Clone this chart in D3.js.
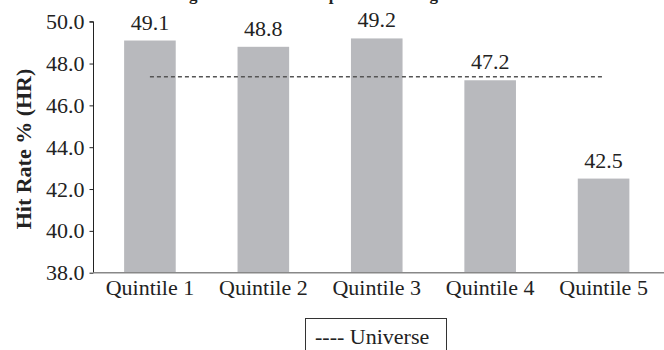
<!DOCTYPE html>
<html>
<head>
<meta charset="utf-8">
<script src="https://cdn.jsdelivr.net/npm/d3@7"></script>
<style>
  body { margin: 0; background: #fff; }
  svg { display: block; font-family: "Liberation Serif", "Times New Roman", serif; }
</style>
</head>
<body>
<script>
// chart data
const categories = ["Quintile 1", "Quintile 2", "Quintile 3", "Quintile 4", "Quintile 5"];
const hitRates = [49.1, 48.8, 49.2, 47.2, 42.5];
const universeRate = 47.37;
const yTicks = [38, 40, 42, 44, 46, 48, 50];

const width = 664, height = 350;

const svg = d3.select("body").append("svg")
    .attr("width", width)
    .attr("height", height);

const x = d3.scaleBand()
    .domain(categories)
    .range([93.5, 660])
    .paddingInner(0.545)
    .paddingOuter(0.27);

const y = d3.scaleLinear()
    .domain([38, 50])
    .range([272.7, 21.7]);

// title (mostly cut off at top of the picture, as in the source)
svg.append("text")
    .attr("x", 146)
    .attr("y", 0)
    .attr("font-size", 17)
    .attr("font-weight", "bold")
    .attr("fill", "#222")
    .text("Average Hit Rate of Composite Ranking");

// bars
svg.selectAll("rect.bar")
    .data(hitRates)
    .enter().append("rect")
    .attr("class", "bar")
    .attr("x", (d, i) => x(categories[i]))
    .attr("width", x.bandwidth())
    .attr("y", d => y(d))
    .attr("height", d => y(38) - y(d))
    .attr("fill", "#b8b9bd");

// value labels
svg.selectAll("text.val")
    .data(hitRates)
    .enter().append("text")
    .attr("class", "val")
    .attr("x", (d, i) => x(categories[i]) + x.bandwidth() / 2)
    .attr("y", d => y(d) - 11)
    .attr("text-anchor", "middle")
    .attr("font-size", 22)
    .attr("fill", "#222")
    .text(d => d.toFixed(1));

// universe line from first to last category centre
svg.append("line")
    .attr("x1", x(categories[0]) + x.bandwidth() / 2)
    .attr("x2", x(categories[categories.length - 1]) + x.bandwidth() / 2)
    .attr("y1", y(universeRate))
    .attr("y2", y(universeRate))
    .attr("stroke", "#555")
    .attr("stroke-width", 1.5)
    .attr("stroke-dasharray", "4,3");

// y axis
const yAxis = svg.append("g")
    .attr("transform", "translate(93.5,0)")
    .call(d3.axisLeft(y).tickValues(yTicks).tickSize(4).tickPadding(5).tickFormat(d3.format(".1f")));
yAxis.select(".domain").attr("stroke", "#222").attr("d", `M-4,${y(50)}H0V${y(38)}`);
yAxis.selectAll(".tick line").attr("stroke", "#222");
yAxis.selectAll(".tick text")
    .attr("font-family", "Liberation Serif, serif")
    .attr("font-size", 22)
    .attr("fill", "#222");

// x axis
const xAxis = svg.append("g")
    .attr("transform", `translate(0,${y(38)})`)
    .call(d3.axisBottom(x).tickSize(0).tickPadding(7));
xAxis.select(".domain").attr("stroke", "#888").attr("stroke-width", 1.5)
    .attr("d", `M93.5,0H664`);
xAxis.selectAll(".tick text")
    .attr("font-family", "Liberation Serif, serif")
    .attr("font-size", 22)
    .attr("fill", "#222");

// y axis title
svg.append("text")
    .attr("transform", "translate(31,149) rotate(-90)")
    .attr("text-anchor", "middle")
    .attr("font-size", 22)
    .attr("font-weight", "bold")
    .attr("fill", "#222")
    .text("Hit Rate % (HR)");

// legend
svg.append("rect")
    .attr("x", 305.5)
    .attr("y", 318.5)
    .attr("width", 141)
    .attr("height", 50)
    .attr("fill", "none")
    .attr("stroke", "#333");
svg.append("text")
    .attr("x", 315)
    .attr("y", 344)
    .attr("font-size", 22)
    .attr("fill", "#222")
    .text("---- Universe");
</script>
</body>
</html>
